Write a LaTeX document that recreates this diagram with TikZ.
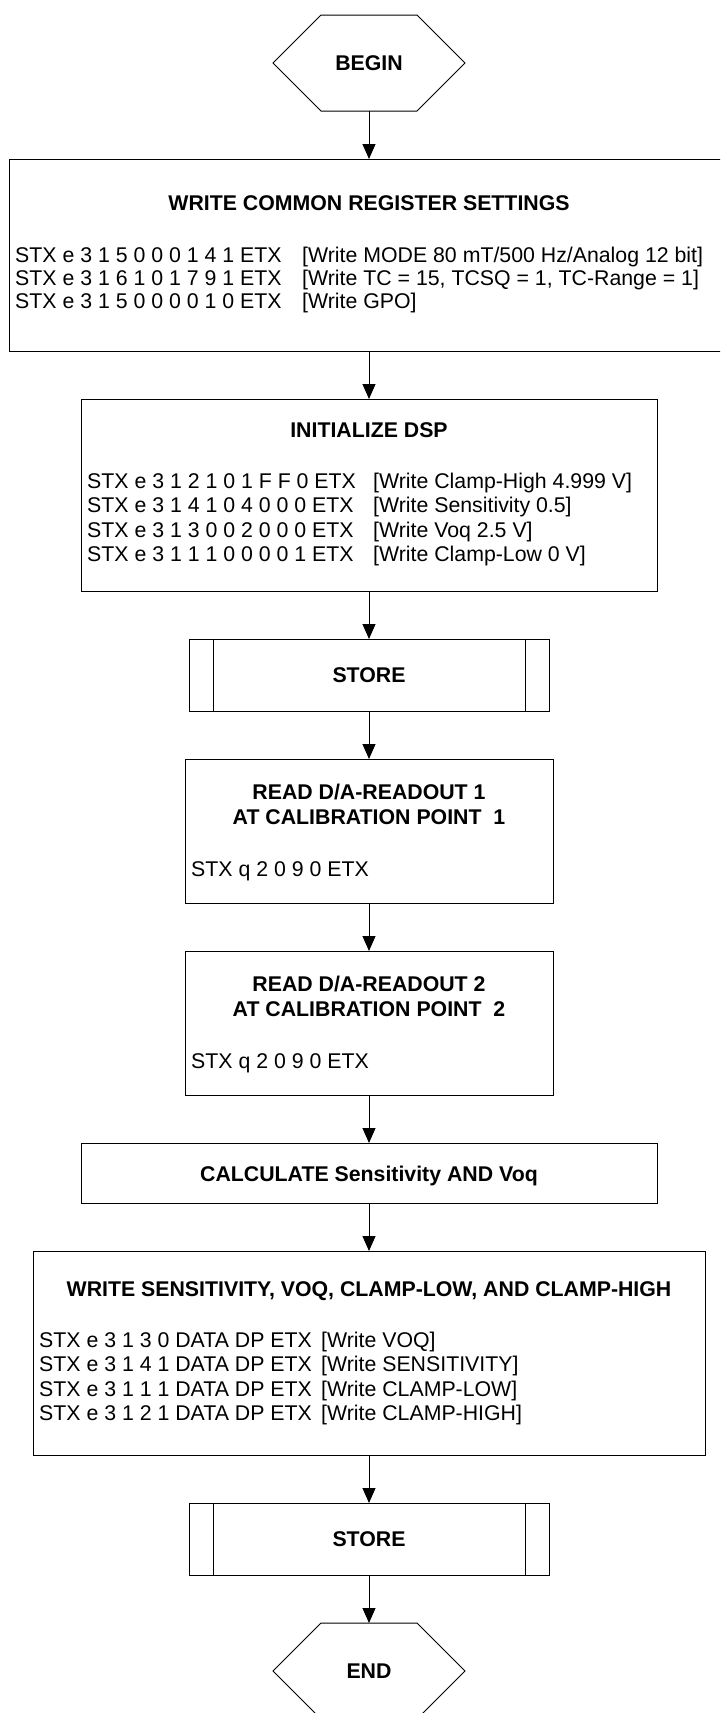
\documentclass[tikz,border=0pt]{standalone}
\usepackage{fontspec}
\setmainfont{Liberation Sans}
\usetikzlibrary{arrows.meta}
\tikzset{
  box/.style={draw, line width=1pt, rectangle, inner sep=0pt, outer sep=0pt},
  hexbase/.style={draw=none, rectangle, inner sep=0pt, outer sep=0pt, minimum width=192pt, minimum height=96pt},
  txt/.style={font=\fontsize{21.3pt}{24pt}\selectfont, inner sep=0pt, anchor=base west},
  ttl/.style={font=\fontsize{21.3pt}{24pt}\selectfont\bfseries, inner sep=0pt, anchor=base},
  flow/.style={line width=1pt, -{Triangle[width=13pt,length=15pt]}},
  edge/.style={line width=1pt},
}
\begin{document}
\begin{tikzpicture}[x=1pt,y=-1pt]
\useasboundingbox (0,0) rectangle (720,1713);
\clip (0,0) rectangle (720,1713);

% BEGIN
\node[hexbase] (begin) at (369,63) {};
\draw[edge] (begin.west) -- ([xshift=48pt]begin.north west) -- ([xshift=-48pt]begin.north east) -- (begin.east) -- ([xshift=-48pt]begin.south east) -- ([xshift=48pt]begin.south west) -- cycle;
\node[ttl, anchor=center] (begintxt) at (begin.center) {BEGIN};

% Box 1
\node[box, minimum width=720pt, minimum height=192pt] (b1) at (369,255) {};
\node[ttl] (b1t) at (369,210.5) {WRITE COMMON REGISTER SETTINGS};
\node[txt] (b1a) at (15,262) {STX e 3 1 5 0 0 0 1 4 1 ETX};
\node[txt] (b1b) at (15,285) {STX e 3 1 6 1 0 1 7 9 1 ETX};
\node[txt] (b1c) at (15,308) {STX e 3 1 5 0 0 0 0 1 0 ETX};
\node[txt] (b1ac) at (302,262) {[Write MODE 80 mT/500 Hz/Analog 12 bit]};
\node[txt] (b1bc) at (302,285) {[Write TC = 15, TCSQ = 1, TC-Range = 1]};
\node[txt] (b1cc) at (302,308) {[Write GPO]};

% Box 2
\node[box, minimum width=576pt, minimum height=192pt] (b2) at (369,495) {};
\node[ttl] (b2t) at (369,437.7) {INITIALIZE DSP};
\node[txt] (b2a) at (87,488) {STX e 3 1 2 1 0 1 F F 0 ETX};
\node[txt] (b2b) at (87,512.5) {STX e 3 1 4 1 0 4 0 0 0 ETX};
\node[txt] (b2c) at (87,537) {STX e 3 1 3 0 0 2 0 0 0 ETX};
\node[txt] (b2d) at (87,561.5) {STX e 3 1 1 1 0 0 0 0 1 ETX};
\node[txt] (b2ac) at (373,488) {[Write Clamp-High 4.999 V]};
\node[txt] (b2bc) at (373,512.5) {[Write Sensitivity 0.5]};
\node[txt] (b2cc) at (373,537) {[Write Voq 2.5 V]};
\node[txt] (b2dc) at (373,561.5) {[Write Clamp-Low 0 V]};

% Store 1
\node[box, minimum width=360pt, minimum height=72pt] (s1) at (369,675) {};
\draw[edge] ([xshift=24pt]s1.north west) -- ([xshift=24pt]s1.south west);
\draw[edge] ([xshift=-24pt]s1.north east) -- ([xshift=-24pt]s1.south east);
\node[ttl, anchor=center] (s1t) at (s1.center) {STORE};

% Read 1
\node[box, minimum width=368pt, minimum height=144pt] (r1) at (369,831) {};
\node[ttl] (r1t1) at (369,799.5) {READ D/A-READOUT 1};
\node[ttl] (r1t2) at (369,824.8) {AT CALIBRATION POINT~~1};
\node[txt] (r1a) at (191,876.3) {STX q 2 0 9 0 ETX};

% Read 2
\node[box, minimum width=368pt, minimum height=144pt] (r2) at (369,1023) {};
\node[ttl] (r2t1) at (369,991.5) {READ D/A-READOUT 2};
\node[ttl] (r2t2) at (369,1016.8) {AT CALIBRATION POINT~~2};
\node[txt] (r2a) at (191,1068.3) {STX q 2 0 9 0 ETX};

% Calculate
\node[box, minimum width=576pt, minimum height=60pt] (calc) at (369,1173) {};
\node[ttl] (calct) at (369,1181) {CALCULATE Sensitivity AND Voq};

% Write sensitivity
\node[box, minimum width=672pt, minimum height=204pt] (ws) at (369,1353) {};
\node[ttl] (wst) at (369,1296) {WRITE SENSITIVITY, VOQ, CLAMP-LOW, AND CLAMP-HIGH};
\node[txt] (wsa) at (39,1347) {STX e 3 1 3 0 DATA DP ETX};
\node[txt] (wsb) at (39,1371.5) {STX e 3 1 4 1 DATA DP ETX};
\node[txt] (wsc) at (39,1396) {STX e 3 1 1 1 DATA DP ETX};
\node[txt] (wsd) at (39,1420.5) {STX e 3 1 2 1 DATA DP ETX};
\node[txt] (wsac) at (321,1347) {[Write VOQ]};
\node[txt] (wsbc) at (321,1371.5) {[Write SENSITIVITY]};
\node[txt] (wscc) at (321,1396) {[Write CLAMP-LOW]};
\node[txt] (wsdc) at (321,1420.5) {[Write CLAMP-HIGH]};

% Store 2
\node[box, minimum width=360pt, minimum height=72pt] (s2) at (369,1539) {};
\draw[edge] ([xshift=24pt]s2.north west) -- ([xshift=24pt]s2.south west);
\draw[edge] ([xshift=-24pt]s2.north east) -- ([xshift=-24pt]s2.south east);
\node[ttl, anchor=center] (s2t) at (s2.center) {STORE};

% END
\node[hexbase] (end) at (369,1671) {};
\draw[edge] (end.west) -- ([xshift=48pt]end.north west) -- ([xshift=-48pt]end.north east) -- (end.east) -- ([xshift=-48pt]end.south east) -- ([xshift=48pt]end.south west) -- cycle;
\node[ttl, anchor=center] (endtxt) at (end.center) {END};

% Connectors
\draw[flow] (begin.south) -- (b1.north);
\draw[flow] (b1.south) -- (b2.north);
\draw[flow] (b2.south) -- (s1.north);
\draw[flow] (s1.south) -- (r1.north);
\draw[flow] (r1.south) -- (r2.north);
\draw[flow] (r2.south) -- (calc.north);
\draw[flow] (calc.south) -- (ws.north);
\draw[flow] (ws.south) -- (s2.north);
\draw[flow] (s2.south) -- (end.north);
\end{tikzpicture}
\end{document}
